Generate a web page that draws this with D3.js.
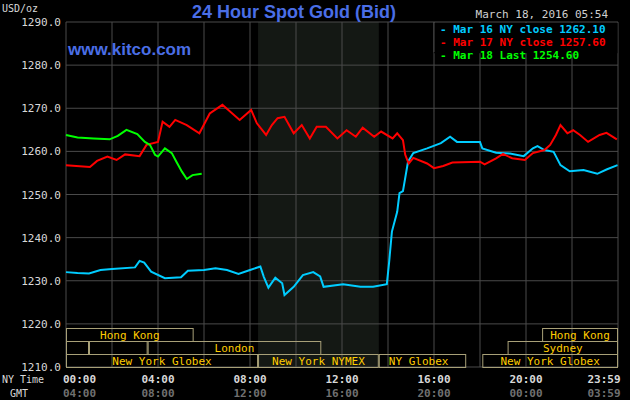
<!DOCTYPE html>
<html><head><meta charset="utf-8">
<script src="https://cdn.jsdelivr.net/npm/d3@7"></script>
<style>body{margin:0;background:#000}svg{display:block}</style></head>
<body><svg id="c" width="630" height="400"></svg>
<script>
const yTicks=[1210,1220,1230,1240,1250,1260,1270,1280,1290];
const xTickHours=[0,4,8,12,16,20,23.983];
const nyLabels=["00:00","04:00","08:00","12:00","16:00","20:00","23:59"];
const gmtLabels=["04:00","08:00","12:00","16:00","20:00","00:00","03:59"];
const seriesNames=["Mar 16 NY close 1262.10","Mar 17 NY close 1257.60","Mar 18 Last 1254.60"];
const seriesColors=["#00ccff","#ff0000","#00ff00"];
const mar16=[[0,1232.0],[0.5,1231.8],[1,1231.7],[1.5,1232.5],[2,1232.7],[3,1233.1],[3.2,1234.6],[3.4,1234.2],[3.7,1232.1],[4.3,1230.6],[5,1230.8],[5.3,1232.3],[6,1232.5],[6.5,1232.9],[7,1232.5],[7.5,1231.6],[8,1232.5],[8.45,1233.3],[8.6,1230.9],[8.8,1228.4],[9.1,1230.7],[9.4,1229.4],[9.5,1226.7],[9.9,1228.6],[10.3,1231.3],[10.75,1232.0],[11.05,1231],[11.2,1228.6],[12.05,1229.2],[12.8,1228.6],[13.35,1228.6],[13.95,1229.2],[14.05,1234.4],[14.17,1241.4],[14.4,1246.0],[14.5,1250.3],[14.65,1250.8],[14.87,1257.6],[15.1,1259.6],[15.7,1260.7],[16.3,1261.9],[16.7,1263.4],[17.0,1262.2],[18,1262.2],[18.1,1260.7],[18.7,1259.7],[19.3,1259.5],[19.9,1258.9],[20.3,1260.7],[20.5,1261.2],[20.8,1260.3],[21.2,1259.9],[21.5,1256.8],[21.9,1255.4],[22.5,1255.7],[23.1,1254.8],[23.5,1255.8],[23.98,1256.8]];
const mar17=[[0,1256.8],[1.04,1256.4],[1.35,1257.8],[1.8,1258.8],[2.2,1258.0],[2.57,1259.3],[3.2,1258.9],[3.5,1261.5],[4,1262.2],[4.2,1266.9],[4.5,1265.7],[4.75,1267.3],[5.25,1266.1],[5.8,1264.2],[6.25,1268.8],[6.8,1270.8],[7.55,1267.3],[8.05,1269.6],[8.3,1266.5],[8.7,1263.8],[8.95,1266.1],[9.2,1267.7],[9.5,1268.0],[9.9,1264.2],[10.25,1266.1],[10.6,1263.0],[10.9,1265.7],[11.3,1265.7],[11.8,1263.0],[12.2,1264.9],[12.6,1263.4],[12.9,1265.5],[13.4,1263.4],[13.7,1264.6],[14.2,1263.0],[14.4,1264.2],[14.65,1262.6],[14.75,1259.2],[14.9,1257.2],[15.1,1258.5],[15.7,1257.2],[16.0,1256.1],[16.4,1256.6],[16.8,1257.4],[18,1257.6],[18.2,1257.0],[18.7,1258.4],[19,1259.4],[19.4,1258.4],[19.95,1258.0],[20.3,1259.6],[20.8,1260.3],[21.05,1261.5],[21.3,1263.8],[21.5,1266.1],[21.8,1264.2],[22.05,1264.9],[22.35,1263.8],[22.7,1262.2],[23.2,1263.8],[23.5,1264.3],[23.95,1262.8]];
const mar18=[[0,1263.8],[0.5,1263.2],[1.2,1263.0],[1.9,1262.8],[2.25,1263.6],[2.63,1265.0],[3.1,1264.0],[3.43,1262.2],[3.65,1261.5],[3.87,1259.2],[4,1258.8],[4.3,1260.7],[4.6,1259.6],[4.8,1257.6],[5.04,1255.3],[5.25,1253.6],[5.5,1254.5],[5.9,1254.8]];
const sessions=[
 {row:0,a:0,b:5.55,label:"Hong Kong"},{row:0,a:20.7,b:24,label:"Hong Kong"},
 {row:1,a:0,b:1,label:""},{row:1,a:1,b:3.55,label:""},{row:1,a:3.55,b:11.1,label:"London"},{row:1,a:19.2,b:24,label:"Sydney"},
 {row:2,a:0,b:8.35,label:"New York Globex"},{row:2,a:8.35,b:13.6,label:"New York NYMEX"},{row:2,a:13.6,b:17.4,label:"NY Globex",left:true},{row:2,a:18.1,b:24,label:"New York Globex"}];
const shade=[8.35,13.6];

const svg=d3.select("#c");
const x=d3.scaleLinear().domain([0,24]).range([66,618]);
const y=d3.scaleLinear().domain([1210,1290]).range([367,22]);
const mono="'DejaVu Sans Mono',monospace";
svg.append("rect").attr("width",630).attr("height",400).attr("fill","#000");
svg.append("rect").attr("x",x(shade[0])).attr("y",y(1290)).attr("width",x(shade[1])-x(shade[0])).attr("height",y(1210)-y(1290)).attr("fill","#141814");
const g=svg.append("g");
g.selectAll(".vg").data(d3.range(0,25,2)).join("line").attr("x1",d=>x(d)).attr("x2",d=>x(d)).attr("y1",y(1290)).attr("y2",y(1210)).attr("stroke","#4a4a4a");
g.selectAll(".hg").data(yTicks).join("line").attr("x1",x(0)).attr("x2",x(24)).attr("y1",d=>y(d)).attr("y2",d=>y(d)).attr("stroke","#4a4a4a");
svg.selectAll(".yl").data(yTicks).join("text").attr("x",61).attr("y",d=>y(d)+4).attr("text-anchor","end").attr("fill","#d8d8d8").attr("font-family",mono).attr("font-size",11).text(d=>d.toFixed(1));
svg.append("text").attr("x",2).attr("y",12).attr("fill","#d8d8d8").attr("font-family",mono).attr("font-size",10).text("USD/oz");
const rowY=[328,341,354];
sessions.forEach(s=>{
 svg.append("rect").attr("x",x(s.a)+0.5).attr("y",rowY[s.row]+0.5).attr("width",x(s.b)-x(s.a)-1).attr("height",13).attr("fill","none").attr("stroke","#a8a078").attr("stroke-width",1);
 if(s.label) svg.append("text").attr("x",s.left?x(s.a)+10:(x(s.a)+x(s.b))/2).attr("y",rowY[s.row]+11).attr("text-anchor",s.left?"start":"middle").attr("fill","#ffcc00").attr("font-family",mono).attr("font-size",11).text(s.label);
});
const line=d3.line().x(d=>x(d[0])).y(d=>y(d[1]));
[mar16,mar17,mar18].forEach((s,i)=>svg.append("path").datum(s).attr("d",line).attr("fill","none").attr("stroke",seriesColors[i]).attr("stroke-width",2));
svg.selectAll(".xl").data(xTickHours).join("text").attr("x",d=>x(d)).attr("y",383).attr("text-anchor",(d,i)=>i==0?"start":i==6?"end":"middle").attr("dx",(d,i)=>i==0?-3:i==6?3:0).attr("fill","#d8d8d8").attr("font-family",mono).attr("font-size",11).attr("font-weight","bold").text((d,i)=>nyLabels[i]);
svg.selectAll(".gl").data(xTickHours).join("text").attr("x",d=>x(d)).attr("y",397).attr("text-anchor",(d,i)=>i==0?"start":i==6?"end":"middle").attr("dx",(d,i)=>i==0?-3:i==6?3:0).attr("fill","#707070").attr("font-family",mono).attr("font-size",11).attr("font-weight","bold").text((d,i)=>gmtLabels[i]);
svg.append("text").attr("x",2).attr("y",383).attr("fill","#d8d8d8").attr("font-family",mono).attr("font-size",10).text("NY Time");
svg.append("text").attr("x",10).attr("y",397).attr("fill","#d8d8d8").attr("font-family",mono).attr("font-size",10).text("GMT");
svg.append("text").attr("x",294).attr("y",18).attr("text-anchor","middle").attr("fill","#4a6ee6").attr("font-family","'Liberation Sans',Arial,sans-serif").attr("font-weight","bold").attr("font-size",18).text("24 Hour Spot Gold (Bid)");
svg.append("text").attr("x",68).attr("y",55).attr("fill","#4a6ee6").attr("font-family","'Liberation Sans',Arial,sans-serif").attr("font-weight","bold").attr("font-size",17).text("www.kitco.com");
svg.append("text").attr("x",608).attr("y",18).attr("text-anchor","end").attr("fill","#d0d0d0").attr("font-family",mono).attr("font-size",11).text("March 18, 2016 05:54");
svg.append("rect").attr("x",x(16)).attr("y",y(1290)+1).attr("width",x(24)-x(16)-0.5).attr("height",y(1283)-y(1290)).attr("fill","#000");
svg.append("line").attr("x1",x(16)).attr("x2",x(16)).attr("y1",y(1290)).attr("y2",y(1283)).attr("stroke","#4a4a4a");
seriesNames.forEach((n,i)=>{
 svg.append("text").attr("x",440).attr("y",33+i*13).attr("fill",seriesColors[i]).attr("font-family",mono).attr("font-size",11).attr("font-weight","bold").text("- "+n);
});
</script></body></html>
